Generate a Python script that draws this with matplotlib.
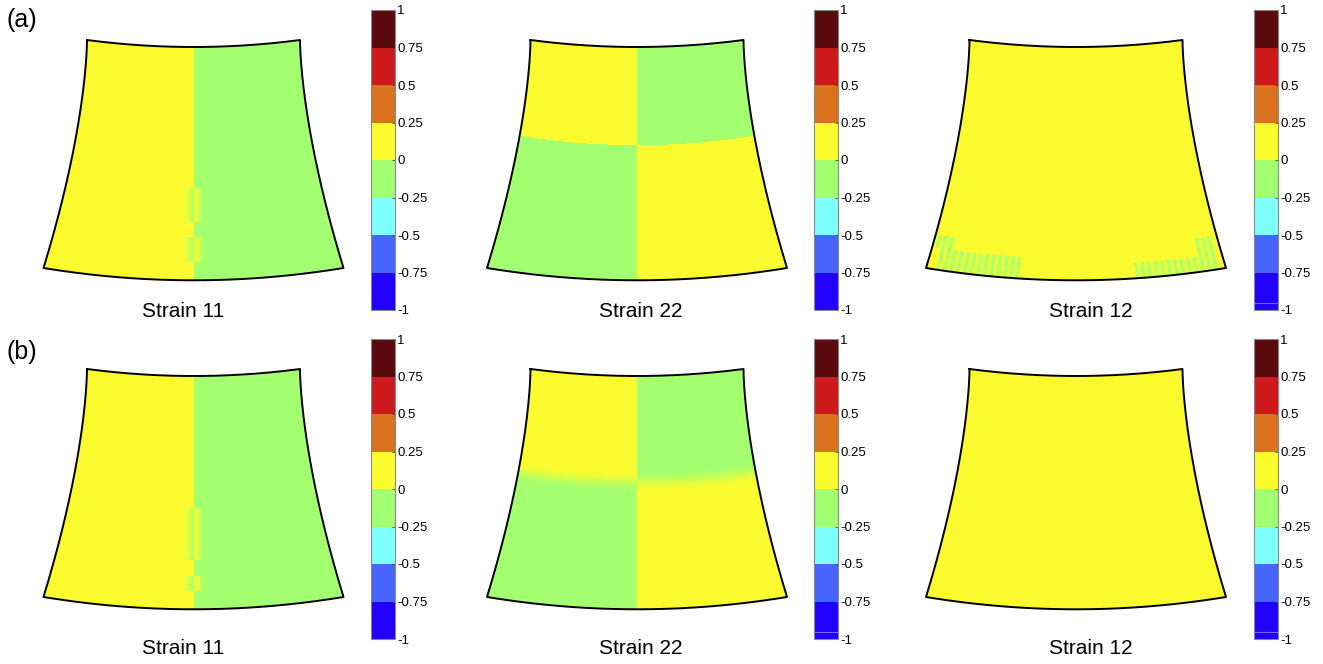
import numpy as np
import matplotlib.pyplot as plt
from matplotlib.colors import ListedColormap, BoundaryNorm, LinearSegmentedColormap
from matplotlib.cm import ScalarMappable

plt.rcParams['font.family'] = ['Liberation Sans', 'DejaVu Sans']

# colour scale (8 bands from -1 to 1)
levels = [-1, -0.75, -0.5, -0.25, 0, 0.25, 0.5, 0.75, 1]
level_labels = ['-1', '-0.75', '-0.5', '-0.25', '0', '0.25', '0.5', '0.75', '1']
band_colors = ['#2200ff', '#4866ff', '#80ffff', '#a2ff70',
               '#fbfc2e', '#d8721f', '#cc1a1d', '#5a0a0c']

row_labels = ['(a)', '(b)']
titles = ['Strain 11', 'Strain 22', 'Strain 12']

# strain values used in the maps
pos = 0.125    # 0 .. 0.25 band
neg = -0.125   # -0.25 .. 0 band

NU, NV = 90, 76   # mesh cells across / down each domain

# Strain 11: left half positive, right half negative, smeared cells at the centre line
s11_halves = [pos, neg]
s11_smear_cols = [42, 43, 44, 45, 46, 47]
s11_smear_vals = [0.08, 0.02, -0.04, 0.04, 0.07, -0.04]
s11_smear_rows = {'a': [(0.60, 0.755), (0.82, 0.92)],
                  'b': [(0.56, 0.79), (0.86, 0.92)]}

# Strain 22: four quadrants, horizontal split, blurred in (b)
s22_quads = [[pos, neg], [neg, pos]]
s22_split = {'a': 0.42, 'b': 0.45}
s22_blur = {'a': [], 'b': [0.10, 0.06, 0.0, -0.06, -0.10]}

# Strain 12: uniform, with striped cells along the bottom in (a)
s12_base = pos
s12_stripe_vals = [0.07, -0.08]
s12_stripes = {'a': [(3, 28, 0.91, 1.0), (1, 7, 0.85, 0.91),
                     (63, 88, 0.94, 1.0), (83, 89, 0.85, 0.94)],
               'b': []}
s12_specks = {'a': (30, 62, 0.06), 'b': None}

# cbars that show a thin line near the bottom
cbar_line = [False, False, True, False, True, True]

# layout (pixels)
W, H = 1323, 664
half_top, half_bot, height = 106.5, 150.0, 228.0
sag_top, sag_bot, flare = 7.0, 12.3, 1.6
panel_cx = [193.5, 637, 1076]
panel_top = [40, 369]
cbar_x = [371, 814, 1254]
cbar_top = [10, 339]
cbar_w, cbar_h = 24, 300
title_x = [183, 641, 1091]
title_y = [311, 648]
label_xy = [(22, 20), (22, 352)]

uc = (np.arange(NU) + 0.5) / NU * 2 - 1
vc = (np.arange(NV) + 0.5) / NV


def strain11(key):
    f = np.where(uc < 0, s11_halves[0], s11_halves[1]) * np.ones((NV, 1))
    for v0, v1 in s11_smear_rows[key]:
        rows = (vc >= v0) & (vc < v1)
        for c, val in zip(s11_smear_cols, s11_smear_vals):
            f[rows, c] = val
    return f


def strain22(key):
    split = s22_split[key]
    top = (vc < split)[:, None]
    left = (uc < 0)[None, :]
    f = np.where(top, np.where(left, s22_quads[0][0], s22_quads[0][1]),
                 np.where(left, s22_quads[1][0], s22_quads[1][1]))
    blur = s22_blur[key]
    r0 = int(split * NV) - len(blur) // 2
    for k, val in enumerate(blur):
        f[r0 + k, uc < 0] = val
        f[r0 + k, uc >= 0] = -val
    return f


def strain12(key):
    f = np.full((NV, NU), s12_base)
    for c0, c1, v0, v1 in s12_stripes[key]:
        rows = (vc >= v0) & (vc < v1)
        for c in range(c0, c1):
            f[rows, c] = s12_stripe_vals[c % 2]
    sp = s12_specks[key]
    if sp is not None:
        for c in range(sp[0], sp[1], 3):
            f[-1, c] = sp[2]
    return f


# mesh of the curved domain
ue = np.linspace(-1, 1, NU + 1)
ve = np.linspace(0, 1, NV + 1)
U, V = np.meshgrid(ue, ve)
X = U * (half_top + (half_bot - half_top) * V ** flare)
Y = V * height + (sag_top + (sag_bot - sag_top) * V) * (1 - U ** 2)
bx = np.concatenate([X[0, :], X[:, -1], X[-1, ::-1], X[::-1, 0]])
by = np.concatenate([Y[0, :], Y[:, -1], Y[-1, ::-1], Y[::-1, 0]])

centers = np.array(levels[:-1]) + 0.125
nodes = [(0.0, band_colors[0])] + [((c + 1) / 2, col) for c, col in zip(centers, band_colors)] \
        + [(1.0, band_colors[-1])]
field_cmap = LinearSegmentedColormap.from_list('field', nodes)
band_cmap = ListedColormap(band_colors)
band_norm = BoundaryNorm(levels, band_cmap.N)

fig = plt.figure(figsize=(W / 100, H / 100), dpi=100)

makers = [strain11, strain22, strain12]
for i, key in enumerate(['a', 'b']):
    for j in range(3):
        px0 = panel_cx[j] - 160
        py0 = panel_top[i] - 10
        ax = fig.add_axes([px0 / W, 1 - (py0 + 260) / H, 320 / W, 260 / H])
        ax.pcolormesh(X, Y, makers[j](key), cmap=field_cmap, vmin=-1, vmax=1,
                      shading='flat', antialiased=False, edgecolors='none')
        ax.plot(bx, by, color='black', lw=1.4)
        ax.set_xlim(-160, 160)
        ax.set_ylim(250, -10)
        ax.axis('off')

        cax = fig.add_axes([cbar_x[j] / W, 1 - (cbar_top[i] + cbar_h) / H,
                            cbar_w / W, cbar_h / H])
        cb = fig.colorbar(ScalarMappable(norm=band_norm, cmap=band_cmap), cax=cax,
                          ticks=levels)
        cb.ax.set_yticklabels(level_labels)
        cb.ax.tick_params(labelsize=9.5, length=2.5, width=0.6, direction='in',
                          pad=1.5, color='#444444')
        cb.outline.set_edgecolor('#888888')
        cb.outline.set_linewidth(0.8)
        if cbar_line[i * 3 + j]:
            cb.ax.axhline(-0.95, color='#6a6aff', lw=0.8)

        fig.text(title_x[j] / W, 1 - title_y[i] / H, titles[j], fontsize=15,
                 ha='center', va='center')
    fig.text(label_xy[i][0] / W, 1 - label_xy[i][1] / H, row_labels[i],
             fontsize=18, ha='center', va='center')

fig.savefig('out.png', dpi=100)
